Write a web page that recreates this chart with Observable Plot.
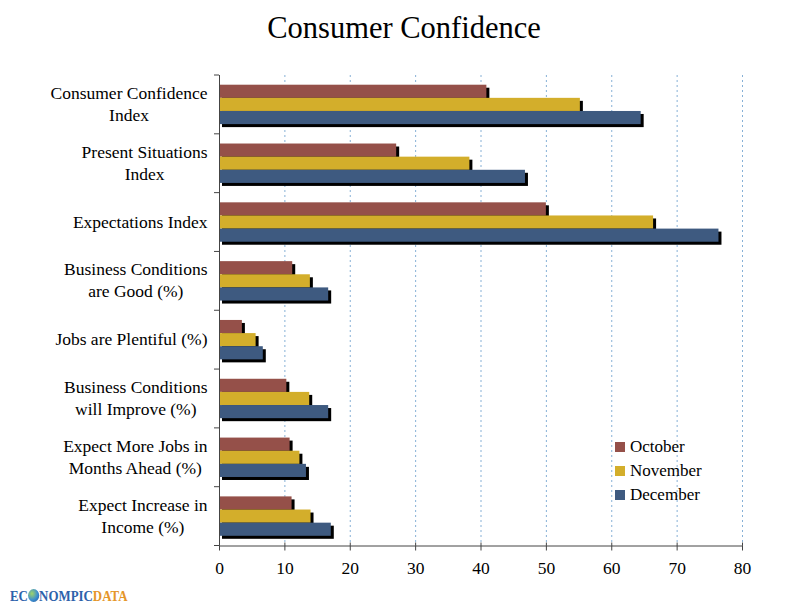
<!DOCTYPE html>
<html>
<head>
<meta charset="utf-8">
<script src="https://cdn.jsdelivr.net/npm/d3@7"></script>
<script src="https://cdn.jsdelivr.net/npm/@observablehq/plot@0.6"></script>
<style>
  html, body { margin: 0; padding: 0; background: #fff; }
  #wrap { position: relative; width: 800px; height: 608px; overflow: hidden; font-family: "Liberation Serif", serif; }
  #title { position: absolute; left: 0; top: 0; width: 808px; height: 50px; text-align: center; font-size: 30.5px; line-height: 56px; color: #000; }
  #chart { position: absolute; left: 0; top: 50px; }
  #legend { position: absolute; left: 615px; top: 435px; font-size: 17px; color: #000; }
  #legend .row { height: 24px; line-height: 24px; white-space: nowrap; }
  #legend .sw { display: inline-block; width: 10px; height: 10px; margin-right: 5px; vertical-align: 0px; }
  #logo { position: absolute; left: 10px; top: 588px; font-family: "Liberation Serif", serif; font-weight: bold; font-size: 15px; white-space: nowrap; transform: scaleX(0.86); transform-origin: left center; }
  #logo .b { color: #2c62ab; }
  #logo .o { color: #e5962a; }
  #logo .g { display: inline-block; width: 13px; height: 13px; border-radius: 50%; vertical-align: -1px; background: radial-gradient(circle at 35% 35%, #9fd46a 0%, #3c8ed0 55%, #1f4f8f 100%); }
</style>
</head>
<body>
<div id="wrap">
  <div id="title">Consumer Confidence</div>
  <div id="chart"></div>
  <div id="legend"></div>
  <div id="logo"><span class="b">EC</span><span class="g"></span><span class="b">NOMPIC</span><span class="o">DATA</span></div>
</div>
<script>
const categories = [
  "Consumer Confidence\nIndex",
  "Present Situations\nIndex",
  "Expectations Index",
  "Business Conditions\nare Good (%)",
  "Jobs are Plentiful (%)",
  "Business Conditions\nwill Improve (%)",
  "Expect More Jobs in\nMonths Ahead (%)",
  "Expect Increase in\nIncome (%)"
];
const months = ["October", "November", "December"];
const october  = [40.9, 27.1, 50.0, 11.2, 3.5, 10.3, 10.8, 11.1];
const november = [55.2, 38.3, 66.4, 13.9, 5.6, 13.8, 12.3, 14.0];
const december = [64.5, 46.8, 76.4, 16.7, 6.7, 16.7, 13.3, 17.1];
const xTicks = [0, 10, 20, 30, 40, 50, 60, 70, 80];
const colors = ["#955049", "#d3ae2b", "#3e5a80"];

const series = [october, november, december];
const rows = [];
months.forEach((m, j) => categories.forEach((c, i) => rows.push({category: c, month: m, value: series[j][i]})));

const W = 800, H = 558, mt = 25, mb = 62.5, ml = 219, mr = 58;
const pInner = 0.33, pOuter = 0.165;
const step = (H - mt - mb) / (categories.length - pInner + 2 * pOuter);
const bw = step * (1 - pInner);
const barH = bw / months.length;
const fs = 17.5;

// measure label widths to center multi-line labels like the original
const ctx = document.createElement("canvas").getContext("2d");
ctx.font = fs + "px 'Liberation Serif'";
const labelW = categories.map(c => Math.max(...c.split("\n").map(s => ctx.measureText(s).width)));

const barMarks = (m, j, opts) => Plot.barX(rows.filter(d => d.month === m), {
  x: "value", y: "category",
  insetTop: j * barH, insetBottom: (months.length - 1 - j) * barH,
  ...opts
});

const plot = Plot.plot({
  width: W, height: H,
  marginTop: mt, marginBottom: mb, marginLeft: ml, marginRight: mr,
  style: {fontFamily: "'Liberation Serif', serif", fontSize: fs + "px", color: "#000", background: "transparent"},
  x: {domain: [0, 80], label: null},
  y: {domain: categories, paddingInner: pInner, paddingOuter: pOuter, round: false, axis: null, label: null},
  marks: [
    Plot.ruleX(xTicks.slice(1), {stroke: "#86b0d6", strokeWidth: 1, strokeDasharray: "2,3"}),
    ...months.map((m, j) => barMarks(m, j, {fill: "#000", dx: 3, dy: 3})),
    ...months.map((m, j) => barMarks(m, j, {fill: colors[j]})),
    Plot.ruleX([0], {stroke: "#444", strokeWidth: 1}),
    Plot.frame({anchor: "bottom", stroke: "#444"}),
    Plot.axisX({ticks: xTicks, tickSize: 5, tickPadding: 11, stroke: "#444", fontSize: fs, label: null}),
    Plot.axisX({ticks: xTicks, tickSize: -3, stroke: "#444", tickFormat: () => "", label: null}),
    ...categories.map((c, i) => Plot.text([c], {
      y: d => d, text: d => d, frameAnchor: "left", textAnchor: "middle",
      dx: -(12 + labelW[i] / 2), dy: -2, lineHeight: 1.26, fontSize: fs, fill: "#000"
    }))
  ]
});

// category boundary ticks on the y axis, positioned from the plot's own scales
const ys = plot.scale("y"), xs = plot.scale("x");
const x0 = xs.apply(0);
const bounds = categories.map(c => ys.apply(c) - (ys.step - ys.bandwidth) / 2);
bounds.push(ys.apply(categories[categories.length - 1]) + ys.bandwidth + (ys.step - ys.bandwidth) / 2);
d3.select(plot).append("g").selectAll("line").data(bounds).join("line")
  .attr("x1", x0 - 5).attr("x2", x0).attr("y1", d => d).attr("y2", d => d)
  .attr("stroke", "#444");

document.getElementById("chart").appendChild(plot);

const legend = d3.select("#legend");
months.forEach((m, j) => {
  const r = legend.append("div").attr("class", "row");
  r.append("span").attr("class", "sw").style("background", colors[j]);
  r.append("span").text(m);
});
</script>
</body>
</html>
